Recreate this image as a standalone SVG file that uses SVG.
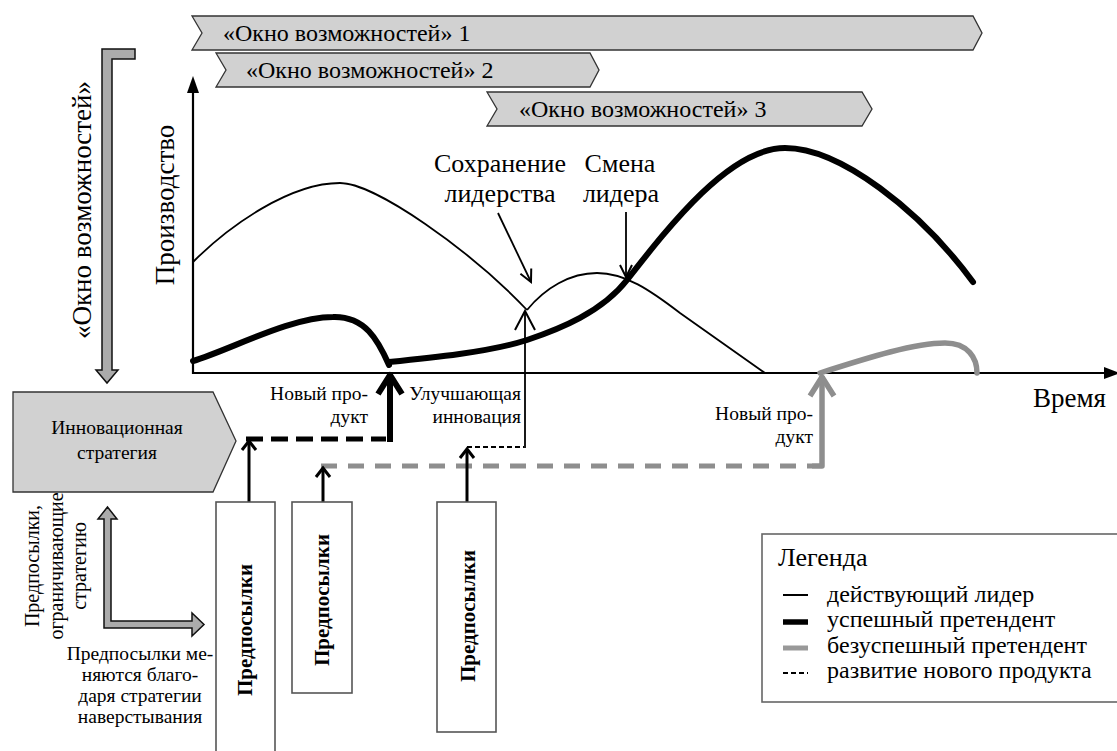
<svg xmlns="http://www.w3.org/2000/svg" width="1117" height="751" viewBox="0 0 1117 751">
<defs>
<style>
text{font-family:'Liberation Serif','Times New Roman',serif;fill:#000}
.ban{fill:#d1d1d1;stroke:#333;stroke-width:1.3}
.bt{font-size:24px}
.gr{fill:#ababab;stroke:#111;stroke-width:1.5}
.box{fill:#fff;stroke:#555;stroke-width:1.6}
.bx{font-size:21px;font-weight:bold;text-anchor:middle}
.lb{font-size:19.5px}
.mid{text-anchor:middle}
.end{text-anchor:end}
.thin{fill:none;stroke:#000;stroke-width:1.8}
.thick{fill:none;stroke:#000;stroke-width:6;stroke-linecap:round;stroke-linejoin:round}
.gray{fill:none;stroke:#8e8e8e;stroke-width:5.5;stroke-linecap:round;stroke-linejoin:round}
.ax{fill:none;stroke:#000;stroke-width:2.2}
.big{font-size:27px}
.cap{font-size:26px;text-anchor:middle}
.leg{font-size:24px}
</style>
<marker id="mThin" markerUnits="userSpaceOnUse" orient="auto" refX="0" refY="0" markerWidth="1" markerHeight="1" overflow="visible"><path d="M-12,-6 L0,0 L-12,6" fill="none" stroke="#000" stroke-width="2"/></marker>
<marker id="mWide" markerUnits="userSpaceOnUse" orient="auto" refX="0" refY="0" markerWidth="1" markerHeight="1" overflow="visible"><path d="M-19,-10 L0,0 L-19,10" fill="none" stroke="#000" stroke-width="2"/></marker>
<marker id="mBox" markerUnits="userSpaceOnUse" orient="auto" refX="0" refY="0" markerWidth="1" markerHeight="1" overflow="visible"><path d="M-9,-7 L0,0 L-9,7" fill="none" stroke="#000" stroke-width="3"/></marker>
<marker id="mThick" markerUnits="userSpaceOnUse" orient="auto" refX="0" refY="0" markerWidth="1" markerHeight="1" overflow="visible"><path d="M-20,-12 L-1,0 L-20,12" fill="none" stroke="#000" stroke-width="6" stroke-linejoin="round"/></marker>
<marker id="mGray" markerUnits="userSpaceOnUse" orient="auto" refX="0" refY="0" markerWidth="1" markerHeight="1" overflow="visible"><path d="M-20,-12 L-1,0 L-20,12" fill="none" stroke="#8e8e8e" stroke-width="5.5" stroke-linejoin="round"/></marker>
</defs>
<rect width="1117" height="751" fill="#fff"/>

<g id="window1"><path class="ban" d="M192,16 L973,16 L982,33 L973,50 L192,50 L202,33 Z"/><text class="bt" x="223" y="41">«Окно возможностей» 1</text></g>
<g id="window2"><path class="ban" d="M216,53 L590,53 L599,70 L590,87 L216,87 L226,70 Z"/><text class="bt" x="246" y="78">«Окно возможностей» 2</text></g>
<g id="window3"><path class="ban" d="M487,92 L862,92 L872,109 L862,126 L487,126 L497,109 Z"/><text class="bt" x="519" y="117">«Окно возможностей» 3</text></g>

<g id="window-arrow"><path class="gr" d="M102,49 L135,49 L135,59 L112,59 L112,370 L118,370 L107,383 L96,370 L102,370 Z"/><text class="big mid" transform="translate(91,210) rotate(-90)">«Окно возможностей»</text></g>

<g id="axes">
<path class="ax" d="M193,374 L193,90"/><path d="M187,93 L193,76 L199,93 Z"/>
<path class="ax" d="M192,373 L1108,373"/><path d="M1104,367 L1120,373 L1104,379 Z"/>
<text class="big mid" transform="translate(174,205) rotate(-90)">Производство</text>
<text class="big" x="1033" y="407">Время</text>
</g>

<g id="connectors">
<path class="thin" d="M193,262 C230,225 290,183 340,183 C375,183 470,250 527,310"/>
<path class="thin" d="M527,310 C545,288 570,273 597,273 C625,273 650,290 680,313 L765,373"/>
<path class="thick" d="M193,361 C230,350 290,317 333,317 C365,316 378,340 389,365"/>
<path class="thick" d="M389,362 C430,358 490,352 527,340 C560,329 602,312 627,280 C670,225 730,148 785,148 C840,148 920,210 973,282"/>
<path class="gray" d="M820,373 C870,357 915,343 945,343 C968,343 977,358 977,373"/>
<path d="M246,439 L386,439" fill="none" stroke="#000" stroke-width="5" stroke-dasharray="17 8"/>
<path d="M390,442 L390,374" fill="none" stroke="#000" stroke-width="6" marker-end="url(#mThick)"/>
<path d="M321,466 L812,466" fill="none" stroke="#8e8e8e" stroke-width="5" stroke-dasharray="16 11"/>
<path d="M812,466 L822,466 L822,376" fill="none" stroke="#8e8e8e" stroke-width="5.5" stroke-linejoin="round" marker-end="url(#mGray)"/>
<path d="M467,447 L524,447" fill="none" stroke="#000" stroke-width="1.8" stroke-dasharray="5 3"/>
<path class="thin" d="M525,448 L525,311" marker-end="url(#mWide)"/>
<path d="M249,502 L249,441" fill="none" stroke="#000" stroke-width="3" marker-end="url(#mBox)"/>
<path d="M323,502 L323,468" fill="none" stroke="#000" stroke-width="3" marker-end="url(#mBox)"/>
<path d="M467,502 L467,449" fill="none" stroke="#000" stroke-width="3" marker-end="url(#mBox)"/>
<path class="thin" d="M498,213 L531,282" marker-end="url(#mThin)"/>
<path class="thin" d="M626,212 L626,277" marker-end="url(#mThin)"/>
</g>

<g id="labels">
<text class="cap" x="500" y="172">Сохранение</text>
<text class="cap" x="500" y="202">лидерства</text>
<text class="cap" x="620" y="172">Смена</text>
<text class="cap" x="621" y="202">лидера</text>
<text class="lb end" x="368" y="400">Новый про-</text>
<text class="lb end" x="368" y="423">дукт</text>
<text class="lb end" x="521" y="400">Улучшающая</text>
<text class="lb end" x="521" y="423">инновация</text>
<text class="lb end" x="813" y="420">Новый про-</text>
<text class="lb end" x="813" y="443">дукт</text>
</g>

<g id="strategy"><path class="ban" d="M13,392 L213,392 L236,441 L213,492 L13,492 Z"/><text class="lb mid" x="117" y="434">Инновационная</text><text class="lb mid" x="117" y="459">стратегия</text></g>

<g id="constraint-arrow">
<path class="gr" d="M107.5,507 L117,519 L111,519 L111,621 L192,621 L192,613 L204,624.5 L192,636 L192,628 L104,628 L104,519 L98,519 Z"/>
<text font-size="20" class="mid" transform="translate(0,566) rotate(-90)"><tspan x="0" y="39">Предпосылки,</tspan><tspan x="0" y="63">ограничивающие</tspan><tspan x="0" y="86">стратегию</tspan></text>
<text class="lb mid" x="140" y="660">Предпосылки ме-</text>
<text class="lb mid" x="140" y="681">няются благо-</text>
<text class="lb mid" x="140" y="702">даря стратегии</text>
<text class="lb mid" x="140" y="723">наверстывания</text>
</g>

<g id="pre1"><rect class="box" x="216" y="502" width="59" height="260"/><text class="bx" transform="translate(252,630) rotate(-90)">Предпосылки</text></g>
<g id="pre2"><rect class="box" x="292" y="502" width="60" height="191"/><text class="bx" transform="translate(329,600) rotate(-90)">Предпосылки</text></g>
<g id="pre3"><rect class="box" x="437" y="502" width="59" height="230"/><text class="bx" transform="translate(475,616) rotate(-90)">Предпосылки</text></g>

<g id="legend">
<rect x="762" y="534" width="380" height="168" fill="#fff" stroke="#666" stroke-width="1.6"/>
<text x="778" y="566" font-size="26">Легенда</text>
<path d="M783,595 L808,595" stroke="#000" stroke-width="2"/>
<path d="M783,622 L808,622" stroke="#000" stroke-width="5.5"/>
<path d="M783,648 L808,648" stroke="#999" stroke-width="5"/>
<path d="M783,673 L808,673" stroke="#000" stroke-width="2" stroke-dasharray="5 3"/>
<text class="leg" x="827" y="602">действующий лидер</text>
<text class="leg" x="827" y="627">успешный претендент</text>
<text class="leg" x="827" y="653">безуспешный претендент</text>
<text class="leg" x="827" y="678">развитие нового продукта</text>
</g>
</svg>
